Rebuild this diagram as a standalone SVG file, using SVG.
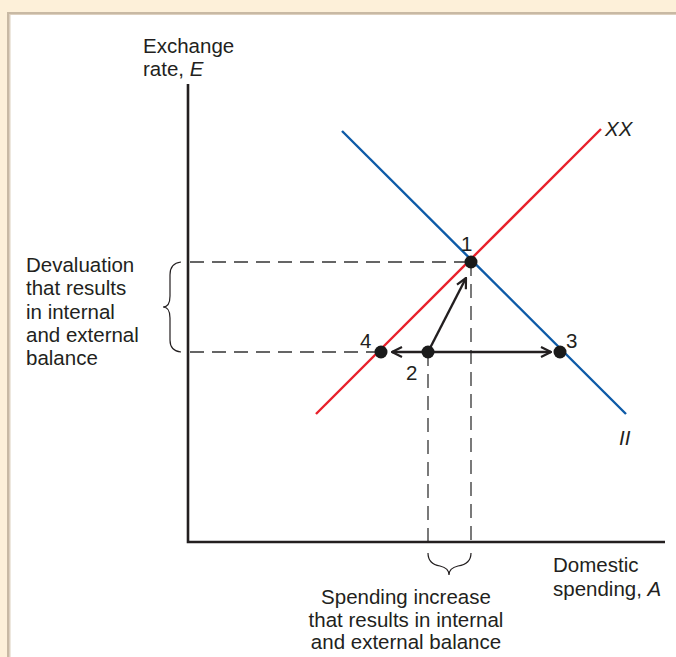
<svg xmlns="http://www.w3.org/2000/svg" width="676" height="657" viewBox="0 0 676 657">
<defs>
<style>
text{font-family:"Liberation Sans",Arial,sans-serif;font-size:20.5px;fill:#231f20}
.it{font-style:italic}
.axis{stroke:#231f20;stroke-width:2.6;fill:none}
.dash{stroke:#333;stroke-width:1.3;stroke-dasharray:14,8;fill:none}
.arr{stroke:#231f20;stroke-width:2.4;fill:none}
.brace{stroke:#231f20;stroke-width:1.2;fill:none}
.dot{fill:#1a1a1a}
</style>
<marker id="ah" viewBox="0 0 12 12" refX="11" refY="6" markerWidth="12" markerHeight="12" markerUnits="userSpaceOnUse" orient="auto">
<path d="M1,1 L11,6 L1,11" fill="none" stroke="#231f20" stroke-width="2.2"/>
</marker>
</defs>
<rect width="676" height="657" fill="#fdf0d9"/>
<rect x="7" y="12" width="680" height="660" fill="#ddd0bf"/>
<rect x="7" y="12" width="680" height="660" fill="none" stroke="#c8b9a4" stroke-width="2" transform="translate(1,1)"/>
<rect x="10.5" y="15" width="680" height="660" fill="#ffffff"/>
<g id="guides">
<path class="dash" d="M190,262 H471"/>
<path class="dash" d="M190,352 H381"/>
<path class="dash" d="M428,352 V541"/>
<path class="dash" d="M471,262 V541"/>
</g>
<g id="axes">
<path class="axis" d="M188,84 V542 H665"/>
</g>
<g id="curves">
<path d="M342,131 L626,414" stroke="#0d5aa7" stroke-width="2.4"/>
<path d="M316,414 L601,129" stroke="#e8202a" stroke-width="2.4"/>
</g>
<g id="connectors">
<path class="arr" d="M428,352 H392" marker-end="url(#ah)"/>
<path class="arr" d="M428,352 H551" marker-end="url(#ah)"/>
<path class="arr" d="M428,352 L466,278" marker-end="url(#ah)"/>
</g>
<g id="braces">
<path class="brace" d="M181,262 Q170,263 170,275 V296 Q170,307 163,307 Q170,307 170,318 V340 Q170,351 181,352"/>
<path class="brace" d="M428,553 Q428,564 440,566 Q449,568 449,575 Q449,568 458,566 Q471,564 471,553"/>
</g>
<g id="p1"><circle class="dot" cx="471" cy="262" r="6.5"/><text x="461" y="251">1</text></g>
<g id="p2"><circle class="dot" cx="428" cy="352" r="6.5"/><text x="406" y="380">2</text></g>
<g id="p3"><circle class="dot" cx="560" cy="352" r="6.5"/><text x="566" y="348">3</text></g>
<g id="p4"><circle class="dot" cx="381" cy="352" r="6.5"/><text x="360" y="348">4</text></g>
<g id="labels">
<text x="143" y="53">Exchange</text>
<text x="143" y="76">rate, <tspan class="it">E</tspan></text>
<text class="it" x="605" y="136">XX</text>
<text class="it" x="619" y="445">II</text>
<text x="26" y="272">Devaluation</text>
<text x="26" y="295">that results</text>
<text x="26" y="319">in internal</text>
<text x="26" y="342">and external</text>
<text x="26" y="365">balance</text>
<text x="553" y="572">Domestic</text>
<text x="553" y="596">spending, <tspan class="it">A</tspan></text>
<text x="406" y="604" text-anchor="middle">Spending increase</text>
<text x="406" y="627" text-anchor="middle">that results in internal</text>
<text x="406" y="649" text-anchor="middle">and external balance</text>
</g>
</svg>
